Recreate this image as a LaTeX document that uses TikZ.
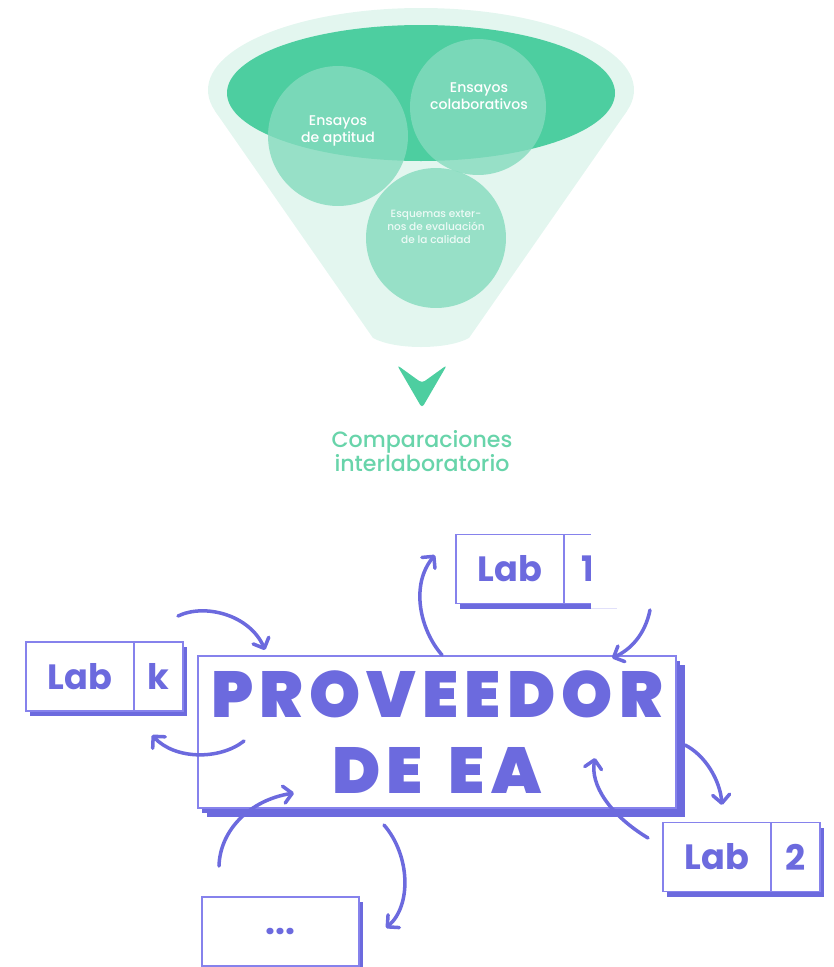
\documentclass[tikz,border=0pt]{standalone}
\usepackage{fontspec}
\setmainfont{Poppins}
\newfontfamily\negra{Poppins Black}
\newfontfamily\media{Poppins Medium}
\usetikzlibrary{positioning,arrows.meta,shadows}

\definecolor{menta}{RGB}{77,206,160}
\definecolor{mentaclara}{RGB}{227,246,239}
\definecolor{burbujamenta}{RGB}{133,219,190}
\definecolor{textomenta}{RGB}{104,212,170}
\definecolor{morado}{RGB}{108,106,222}
\definecolor{borde}{RGB}{134,130,236}

\begin{document}
\begin{tikzpicture}[x=0.02cm, y=-0.02cm,
    burbuja/.style={circle, fill=burbujamenta, fill opacity=0.8, inner sep=0pt},
    txtburbuja/.style={text=white, align=center, font=\media\fontsize{8}{9.5}\selectfont},
    labcell/.style={draw=borde, line width=0.8pt, fill=white, outer sep=0pt, inner sep=0pt,
        minimum height=1.38cm, text=morado, font=\fontsize{20}{20}\selectfont\bfseries,
        general shadow={fill=morado, shadow xshift=0.08cm, shadow yshift=-0.1cm}},
    flecha/.style={draw=morado, line width=2pt, line cap=round,
        -{Straight Barb[length=1.7mm, width=3.4mm, round]}}]
    \useasboundingbox (0,0) rectangle (833,967);

    % embudo
    \fill[mentaclara] (421,90) ellipse [x radius=213, y radius=82];
    \fill[mentaclara] (215,111) -- (373,338) .. controls (395,350) and (447,350) .. (469,338) -- (627,111) -- cycle;
    \fill[menta] (421,93) ellipse [x radius=194, y radius=68];
    \node[burbuja, minimum size=2.8cm] (aptitud) at (338,136) {};
    \node[burbuja, minimum size=2.72cm] (colab) at (478,107) {};
    \node[burbuja, minimum size=2.8cm] (esquemas) at (436,238) {};
    \node[txtburbuja] (taptitud) at (338,131) {Ensayos\\de aptitud};
    \node[txtburbuja] (tcolab) at (479,96) {Ensayos\\colaborativos};
    \node[txtburbuja, text=white!90!menta, font=\media\fontsize{6}{7.5}\selectfont] (tesquemas) at (436,227) {Esquemas exter-\\nos de evaluación\\de la calidad};

    \fill[menta, rounded corners=2pt] (397,365) -- (422,383) -- (447,365) -- (422,408) -- cycle;
    \node[text=textomenta, align=center, font=\media\fontsize{12.6}{13.2}\selectfont] (comp) at (422,451) {Comparaciones\\interlaboratorio};

    % proveedor y laboratorios
    \node[labcell, minimum width=9.56cm, minimum height=3.04cm, align=center,
        font=\negra\fontsize{37}{43.5}\selectfont\addfontfeature{LetterSpace=9.5},
        general shadow={fill=morado, shadow xshift=0.18cm, shadow yshift=-0.18cm}] (prov) at (437,732) {PROVEEDOR\\DE\hskip0.4em EA};

    \node[labcell, minimum width=2.16cm] (labk) at (80,676.5) {Lab};
    \node[labcell, minimum width=0.98cm, right=0pt of labk] (labkn) {k};
    \node[labcell, minimum width=2.16cm] (lab1) at (510,569) {Lab};
    \node[labcell, minimum width=0.98cm, right=0pt of lab1] (lab1n) {1};
    \fill[white] (591,528) rectangle (630,612);
    \draw[borde!25, line width=0.4pt] (591,608) -- (617,608);
    \node[labcell, minimum width=2.16cm] (lab2) at (717,857) {Lab};
    \node[labcell, minimum width=0.98cm, right=0pt of lab2] (lab2n) {2};
    \node[labcell, minimum width=3.14cm] (labn) at (280.5,931.5) {...};

    \coordinate (k1) at (178,616);  \coordinate (k2) at (265,650);
    \coordinate (k3) at (244,741);  \coordinate (k4) at (152,735);
    \coordinate (u1) at (442,655);  \coordinate (u2) at (435,555);
    \coordinate (u3) at (650,610);  \coordinate (u4) at (612,658);
    \coordinate (d1) at (685,745);  \coordinate (d2) at (722,805);
    \coordinate (d3) at (648,838);  \coordinate (d4) at (595,758);
    \coordinate (n1) at (219,866);  \coordinate (n2) at (294,793);
    \coordinate (n3) at (384,825);  \coordinate (n4) at (386,928);

    \draw[flecha] (k1) .. controls (205,603) and (250,615) .. (k2);
    \draw[flecha] (k3) .. controls (220,760) and (175,760) .. (k4);
    \draw[flecha] (u1) .. controls (420,630) and (410,585) .. (u2);
    \draw[flecha] (u3) .. controls (645,635) and (630,650) .. (u4);
    \draw[flecha] (d1) .. controls (705,755) and (720,780) .. (d2);
    \draw[flecha] (d3) .. controls (610,815) and (590,785) .. (d4);
    \draw[flecha] (n1) .. controls (220,830) and (250,800) .. (n2);
    \draw[flecha] (n3) .. controls (410,855) and (412,905) .. (n4);
\end{tikzpicture}
\end{document}
